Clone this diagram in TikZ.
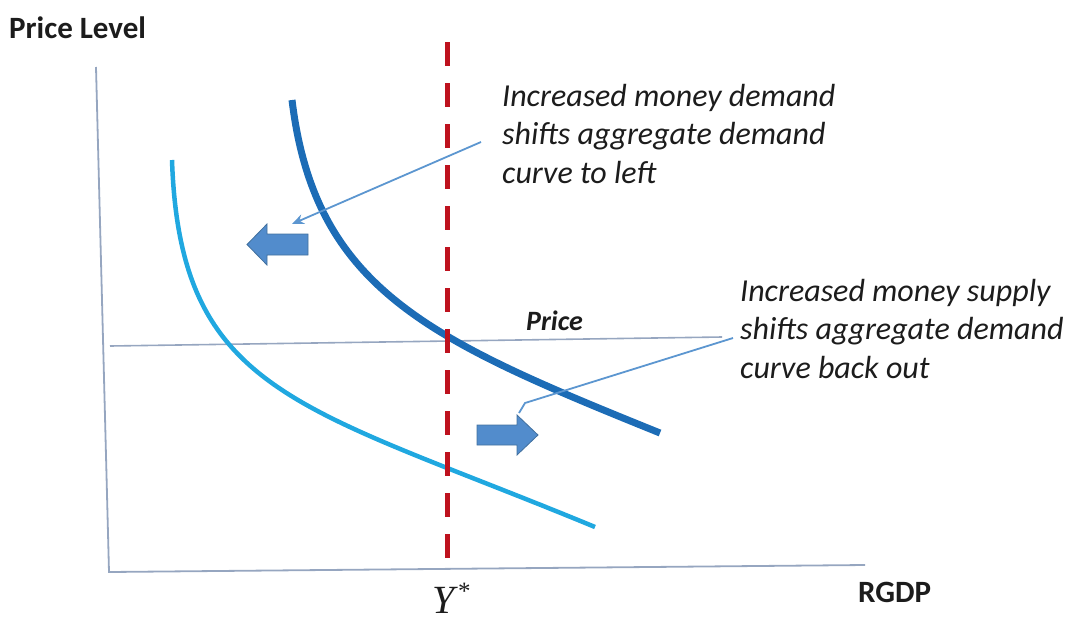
\documentclass[tikz,border=0pt]{standalone}
\usepackage{fontspec}
\setmainfont{Carlito}
\newfontfamily\ystarfont{Liberation Serif}
\usetikzlibrary{arrows.meta}
\definecolor{adone}{RGB}{28,108,182}
\definecolor{adtwo}{RGB}{32,168,224}
\definecolor{yred}{RGB}{190,18,30}
\definecolor{axisc}{RGB}{150,166,192}
\definecolor{callc}{RGB}{92,150,208}
\definecolor{blockfill}{RGB}{82,140,204}
\definecolor{blockedge}{RGB}{66,112,158}
\definecolor{txt}{RGB}{28,28,28}
\begin{document}
\begin{tikzpicture}[x=1pt,y=-1pt,
  axisline/.style={draw=axisc,line width=1.8pt},
  lbl/.style={inner sep=0pt,anchor=base west,text=txt},
  note/.style={lbl,font=\fontsize{32}{38.5}\selectfont\itshape,align=left,anchor=north west},
  callout/.style={draw=callc,line width=1.8pt},
  block/.style={fill=blockfill,draw=blockedge,line width=0.8pt}]
\useasboundingbox (0,0) rectangle (1067,624);
% axes
\coordinate (ytop) at (96,67);
\coordinate (orig) at (109,572);
\coordinate (xend) at (865,565);
\draw[axisline] (ytop) -- (orig) -- (xend);
% labels
\node[lbl,font=\fontsize{31}{32}\selectfont\bfseries] (pl) at (9,38) {Price Level};
\node[lbl,font=\fontsize{31}{32}\selectfont\bfseries] (rgdp) at (858,602) {RGDP};
\node[lbl,font=\fontsize{40}{40}\selectfont\ystarfont] (ystar) at (432,613) {\textit{Y}\raisebox{0.35em}{\fontsize{25}{25}\selectfont *}};
% price line
\coordinate (pleft) at (110,346);
\coordinate (pright) at (722,337);
\draw[axisline,line width=1.6pt] (pleft) -- (pright);
\node[lbl,font=\fontsize{28}{28}\selectfont\bfseries\itshape] (price) at (526,330) {Price};
% curves
\coordinate (a2s) at (172,160);
\coordinate (a2e) at (595,527);
\draw[adtwo,line width=4.5pt] (a2s) .. controls (180,395) and (300,405) .. (a2e);
\coordinate (a1s) at (292,100);
\coordinate (a1e) at (660,433);
\draw[adone,line width=7pt] (a1s) .. controls (315,290) and (430,340) .. (a1e);
% red dashed Y* line
\coordinate (rtop) at (447,42);
\coordinate (rbot) at (447,572);
\draw[yred,line width=5pt,dash pattern=on 24pt off 17pt] (rtop) -- (rbot);
% block arrows
\fill[block] (308,234) -- (267,234) -- (267,224) -- (247,244.5) -- (267,265) -- (267,255) -- (308,255) -- cycle;
\fill[block] (477,425) -- (517,425) -- (517,415) -- (538,435) -- (517,455) -- (517,445) -- (477,445) -- cycle;
% notes
\node[note] (n1) at (502,84) {Increased money demand\\shifts aggregate demand\\curve to left};
\node[note] (n2) at (740,279) {Increased money supply\\shifts aggregate demand\\curve back out};
% callouts
\coordinate (c1s) at (481,142);
\coordinate (c1e) at (292,224);
\draw[callout,-{Stealth[length=12pt,width=10pt]}] (c1s) -- (c1e);
\coordinate (c2s) at (733,338);
\coordinate (c2m) at (525,403);
\coordinate (c2e) at (519,413);
\draw[callout] (c2s) -- (c2m) -- (c2e);
\end{tikzpicture}
\end{document}
